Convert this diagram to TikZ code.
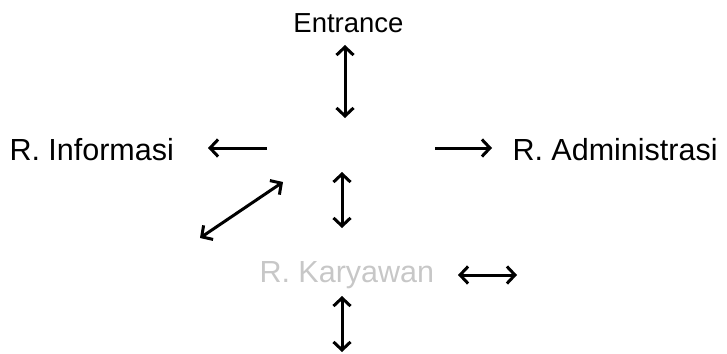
\documentclass[tikz,border=0pt]{standalone}
\usepackage{fontspec}
\setmainfont{Liberation Sans}
\usetikzlibrary{arrows.meta}
\begin{document}
\begin{tikzpicture}[x=1pt,y=-1pt,
  lbl/.style={inner sep=0pt,outer sep=0pt,font=\fontsize{30.5}{36}\selectfont},
  tip/.style={Straight Barb[length=8pt,width=17pt,line width=3.2pt]},
  arr/.style={line width=3pt,-{Straight Barb[length=8pt,width=17pt,line width=3pt]}},
  darr/.style={line width=3pt,{Straight Barb[length=8pt,width=17pt,line width=3pt]}-{Straight Barb[length=8pt,width=17pt,line width=3pt]}}]
\useasboundingbox (0,0) rectangle (727,353);
\node[lbl,anchor=base,font=\fontsize{27.5}{32}\selectfont] (ent) at (348.5,33) {Entrance};
\node[lbl,anchor=base west] (info) at (9.5,160) {R. Informasi};
\node[lbl,anchor=base west] (admin) at (512.5,160) {R. Administrasi};
\node[lbl,anchor=base west,text=black!22] (kary) at (259.5,282) {R. Karyawan};
% arrow end points
\coordinate (t1) at (345,45);  \coordinate (t2) at (345,118);
\coordinate (l1) at (267,148); \coordinate (l2) at (208,148);
\coordinate (r1) at (435,148); \coordinate (r2) at (492,148);
\coordinate (d1) at (283,182); \coordinate (d2) at (200,238);
\coordinate (m1) at (342,172); \coordinate (m2) at (342,228);
\coordinate (k1) at (458,275); \coordinate (k2) at (517,275);
\coordinate (b1) at (342,296); \coordinate (b2) at (342,352);
\draw[darr] (t1) -- (t2);
\draw[arr] (l1) -- (l2);
\draw[arr] (r1) -- (r2);
\draw[darr] (d1) -- (d2);
\draw[darr] (m1) -- (m2);
\draw[darr] (k1) -- (k2);
\draw[darr] (b1) -- (b2);
\end{tikzpicture}
\end{document}
